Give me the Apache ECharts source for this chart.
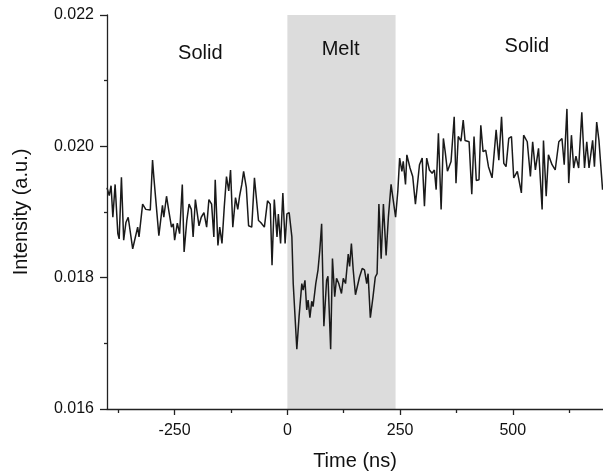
<!DOCTYPE html>
<html>
<head>
<meta charset="utf-8">
<script src="https://cdn.jsdelivr.net/npm/echarts@6/dist/echarts.min.js"></script>
<style>
  html, body { margin: 0; padding: 0; background: #fff; }
  #chart { width: 603px; height: 476px; }
</style>
</head>
<body>
<div id="chart"></div>
<script>
const timeNs = [
  -400, -395, -391, -387, -382, -376, -373, -368, -363, -358,
  -353, -343, -332, -329, -321, -314, -304, -299, -296, -285,
  -277, -274, -268, -263, -257, -253, -250, -244, -239, -233,
  -229, -223, -218, -213, -209, -204, -196, -191, -185, -179,
  -174, -168, -163, -160, -154, -150, -145, -140, -135, -130,
  -126, -121, -115, -110, -106, -101, -97, -91, -86, -79,
  -73, -69, -64, -59, -51, -44, -38, -34, -29, -23,
  -20, -15, -10, -5, -1, 4, 10, 13, 21, 26,
  32, 35, 39, 43, 46, 50, 54, 57, 63, 68,
  72, 76, 81, 87, 90, 96, 100, 105, 109, 114,
  120, 124, 129, 135, 138, 142, 146, 151, 155, 160,
  166, 171, 176, 179, 184, 190, 195, 199, 203, 208,
  213, 219, 224, 230, 234, 240, 245, 249, 254, 257,
  262, 265, 272, 278, 284, 293, 299, 304, 309, 315,
  321, 326, 330, 335, 341, 346, 350, 355, 363, 370,
  374, 379, 385, 390, 394, 403, 409, 414, 419, 425,
  429, 434, 440, 446, 454, 463, 469, 475, 480, 485,
  491, 497, 502, 510, 519, 524, 532, 539, 544, 550,
  557, 565, 568, 574, 579, 587, 594, 602, 609, 614,
  620, 624, 630, 635, 640, 646, 653, 659, 664, 669,
  677, 681, 686, 691, 699
];
const intensity = [
  0.01937, 0.01925, 0.01940, 0.01892, 0.01942, 0.01867, 0.01859, 0.01953, 0.01857, 0.01884,
  0.01892, 0.01844, 0.01877, 0.01862, 0.01912, 0.01904, 0.01903, 0.01979, 0.01952, 0.01864,
  0.01910, 0.01892, 0.01924, 0.01902, 0.01877, 0.01882, 0.01857, 0.01883, 0.01867, 0.01942,
  0.01839, 0.01887, 0.01912, 0.01904, 0.01862, 0.01919, 0.01879, 0.01892, 0.01899, 0.01877,
  0.01919, 0.01912, 0.01862, 0.01949, 0.01849, 0.01877, 0.01852, 0.01907, 0.01954, 0.01932,
  0.01964, 0.01877, 0.01922, 0.01904, 0.01924, 0.01942, 0.01962, 0.01937, 0.01879, 0.01877,
  0.01952, 0.01953, 0.01887, 0.01884, 0.01877, 0.01917, 0.01912, 0.01819, 0.01919, 0.01862,
  0.01897, 0.01852, 0.01929, 0.01852, 0.01897, 0.01899, 0.01862, 0.01791, 0.01691, 0.01741,
  0.01791, 0.01781, 0.01796, 0.01751, 0.01766, 0.01739, 0.01764, 0.01756, 0.01791, 0.01812,
  0.01842, 0.01882, 0.01726, 0.01796, 0.01802, 0.01691, 0.01829, 0.01771, 0.01799, 0.01791,
  0.01776, 0.01799, 0.01791, 0.01836, 0.01817, 0.01852, 0.01812, 0.01774, 0.01772, 0.01801,
  0.01814, 0.01812, 0.01791, 0.01806, 0.01739, 0.01771, 0.01801, 0.01806, 0.01912, 0.01829,
  0.01912, 0.01834, 0.01892, 0.01942, 0.01922, 0.01892, 0.01932, 0.01982, 0.01962, 0.01977,
  0.01942, 0.01987, 0.01967, 0.01954, 0.01912, 0.01972, 0.01982, 0.01909, 0.01982, 0.01964,
  0.01959, 0.01964, 0.01934, 0.02020, 0.01904, 0.02012, 0.01992, 0.01962, 0.01977, 0.02045,
  0.01944, 0.02015, 0.02008, 0.02040, 0.02009, 0.02007, 0.01927, 0.02015, 0.01948, 0.01949,
  0.02032, 0.01992, 0.01994, 0.01969, 0.01952, 0.02025, 0.01979, 0.02045, 0.01974, 0.01969,
  0.02012, 0.02015, 0.01952, 0.01962, 0.01929, 0.02017, 0.02007, 0.01954, 0.02007, 0.01964,
  0.01997, 0.01904, 0.02009, 0.01924, 0.01987, 0.01972, 0.01964, 0.02007, 0.02012, 0.01972,
  0.02057, 0.01944, 0.02017, 0.01967, 0.01985, 0.01967, 0.02052, 0.01967, 0.02007, 0.01967,
  0.02009, 0.01969, 0.02037, 0.02009, 0.01934
];

// melt window (ns)
const meltStart = 0;
const meltEnd = 240;

// region labels
const regionNames = ["Solid", "Melt", "Solid"];
const regionX = [-193, 118, 531];
const regionY = [0.02141, 0.02147, 0.02152];

// axis ticks
const xTickLabels = [-250, 0, 250, 500];
const xMinorTicks = [-375, -125, 125, 375, 625];

const font = "'Liberation Sans', Arial, Helvetica, sans-serif";
const axisColor = "#222";

const chart = echarts.init(document.getElementById("chart"));

const points = timeNs.map((t, i) => [t, intensity[i]]);

const option = {
  animation: false,
  backgroundColor: "#fff",
  grid: {
    left: 107,
    right: 0,
    top: 15,
    bottom: 62,
  },
  xAxis: [
    {
      type: "value",
      min: -400,
      max: 700,
      z: 5,
      name: "Time (ns)",
      nameLocation: "middle",
      nameGap: 42,
      nameTextStyle: { fontFamily: font, fontSize: 20, color: "#111" },
      axisLine: { onZero: false, lineStyle: { color: axisColor, width: 1.3 } },
      axisTick: { customValues: xTickLabels, length: 6, lineStyle: { color: axisColor, width: 1.3 } },
      axisLabel: {
        customValues: xTickLabels,
        margin: 14,
        fontFamily: font,
        fontSize: 16,
        color: "#111",
      },
      splitLine: { show: false },
    },
    {
      // minor ticks only
      type: "value",
      min: -400,
      max: 700,
      position: "bottom",
      z: 5,
      axisLine: { show: false, onZero: false },
      axisTick: { customValues: xMinorTicks, length: 4, lineStyle: { color: axisColor, width: 1.3 } },
      axisLabel: { show: false },
      splitLine: { show: false },
    },
  ],
  yAxis: {
    type: "value",
    min: 0.016,
    max: 0.022,
    interval: 0.002,
    z: 5,
    name: "Intensity (a.u.)",
    nameLocation: "middle",
    nameGap: 76,
    nameTextStyle: { fontFamily: font, fontSize: 20, color: "#111" },
    axisLine: { show: true, onZero: false, lineStyle: { color: axisColor, width: 1.3 } },
    axisTick: { show: true, length: 7, lineStyle: { color: axisColor, width: 1.3 } },
    minorTick: { show: true, splitNumber: 2, length: 3, lineStyle: { color: axisColor, width: 1.3 } },
    axisLabel: {
      margin: 13,
      fontFamily: font,
      fontSize: 16,
      color: "#111",
      formatter: (v) => v.toFixed(3),
    },
    splitLine: { show: false },
  },
  series: [
    {
      type: "line",
      data: points,
      symbol: "none",
      z: 3,
      lineStyle: { color: "#1a1a1a", width: 1.5 },
      markArea: {
        silent: true,
        itemStyle: { color: "#dcdcdc" },
        data: [[{ xAxis: meltStart }, { xAxis: meltEnd }]],
      },
      markPoint: {
        silent: true,
        symbol: "rect",
        symbolSize: 1,
        itemStyle: { color: "rgba(0,0,0,0)" },
        label: {
          show: true,
          position: "inside",
          formatter: "{b}",
          fontFamily: font,
          fontSize: 20,
          color: "#111",
        },
        data: regionNames.map((n, i) => ({ name: n, coord: [regionX[i], regionY[i]] })),
      },
    },
  ],
};

chart.setOption(option);

window.addEventListener("resize", () => {
  chart.resize();
});
</script>
</body>
</html>
